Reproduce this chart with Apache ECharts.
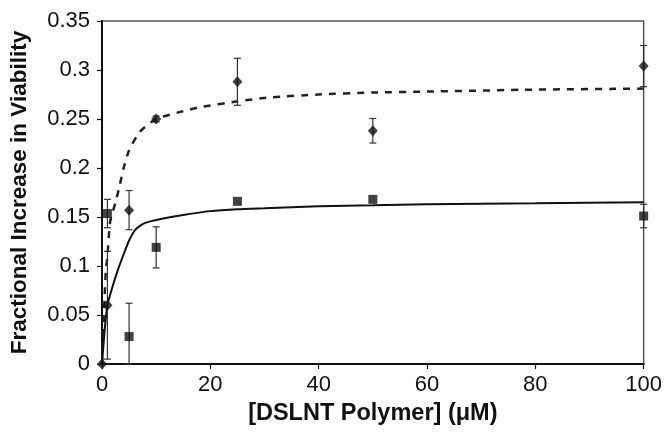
<!DOCTYPE html>
<html>
<head>
<meta charset="utf-8">
<script src="https://cdn.jsdelivr.net/npm/echarts@6/dist/echarts.min.js"></script>
<style>
  html, body { margin: 0; padding: 0; background: #fff; }
  #chart { width: 665px; height: 434px; }
</style>
</head>
<body>
<div id="chart"></div>
<script>
// 观测点 (μM, 增幅, 误差)
const doseDiamond = [0, 1, 5, 10, 25, 50, 100];
const valDiamond = [0, 0.06, 0.157, 0.25, 0.288, 0.238, 0.304];
const errDiamond = [0, 0.055, 0.02, 0.003, 0.024, 0.0125, 0.021];

const doseSquare = [1, 5, 10, 25, 50, 100];
const valSquare = [0.1535, 0.028, 0.119, 0.166, 0.168, 0.151];
const errSquare = [0.0145, 0.034, 0.021, 0, 0, 0.012];

// 拟合曲线
const fitDashX = [0, 0.3, 0.55, 0.7, 1, 1.5, 2.5, 3.3, 4, 5, 7, 10, 15, 18, 25, 31, 40, 50, 60, 80, 100];
const fitDashY = [0, 0.04, 0.078, 0.094, 0.11, 0.145, 0.165, 0.183, 0.2, 0.218, 0.237, 0.25, 0.258, 0.262, 0.268, 0.272, 0.275, 0.277, 0.278, 0.28, 0.281];

const fitSolidX = [0, 0.5, 1, 2, 3, 4, 5, 6, 7, 8, 10, 15, 20, 25, 30, 40, 50, 60, 80, 100];
const fitSolidY = [0, 0.035, 0.06, 0.08, 0.097, 0.112, 0.126, 0.136, 0.141, 0.144, 0.147, 0.152, 0.156, 0.158, 0.159, 0.161, 0.162, 0.163, 0.164, 0.165];

const xTicks = [0, 20, 40, 60, 80, 100];
const yTicks = [0, 0.05, 0.1, 0.15, 0.2, 0.25, 0.3, 0.35];

const zip = (xs, ys) => xs.map((x, i) => [x, ys[i]]);

const errData = (xs, ys, es) => xs
    .map((x, i) => [x, Math.max(0, ys[i] - es[i]), ys[i] + es[i]])
    .filter(d => d[2] - d[1] > 0.001);

const errorBar = (data) => ({
    type: 'custom',
    data,
    z: 3,
    silent: true,
    renderItem: (params, api) => {
        const lo = api.coord([api.value(0), api.value(1)]);
        const hi = api.coord([api.value(0), api.value(2)]);
        const cap = 3.5;
        const style = { stroke: '#333', lineWidth: 1.2 };
        return {
            type: 'group',
            children: [
                { type: 'line', shape: { x1: lo[0], y1: lo[1], x2: hi[0], y2: hi[1] }, style },
                { type: 'line', shape: { x1: lo[0] - cap, y1: lo[1], x2: lo[0] + cap, y2: lo[1] }, style },
                { type: 'line', shape: { x1: hi[0] - cap, y1: hi[1], x2: hi[0] + cap, y2: hi[1] }, style }
            ]
        };
    }
});

const font = '"Liberation Sans", Arial, sans-serif';

const chart = echarts.init(document.getElementById('chart'));
chart.setOption({
    animation: false,
    grid: {
        left: 102,
        right: 21,
        top: 21,
        bottom: 70,
        show: true,
        borderColor: '#555',
        borderWidth: 1.5
    },
    xAxis: {
        type: 'value',
        min: xTicks[0],
        max: xTicks[xTicks.length - 1],
        interval: 20,
        name: '[DSLNT Polymer] (\u03bcM)',
        nameLocation: 'middle',
        nameGap: 38,
        nameTextStyle: { fontFamily: font, fontWeight: 'bold', fontSize: 23.5, color: '#111' },
        axisLine: { lineStyle: { color: '#111', width: 2 } },
        axisTick: { length: 5, lineStyle: { color: '#111', width: 1.2 } },
        axisLabel: { fontFamily: font, fontSize: 22, color: '#111', margin: 10 },
        splitLine: { show: false }
    },
    yAxis: {
        type: 'value',
        min: yTicks[0],
        max: yTicks[yTicks.length - 1],
        interval: 0.05,
        name: 'Fractional Increase in Viability',
        nameLocation: 'middle',
        nameGap: 71,
        nameTextStyle: { fontFamily: font, fontWeight: 'bold', fontSize: 22.5, color: '#111' },
        axisLine: { show: true, lineStyle: { color: '#111', width: 2 } },
        axisTick: { show: true, length: 5, lineStyle: { color: '#111', width: 1.2 } },
        axisLabel: { fontFamily: font, fontSize: 22, color: '#111', margin: 12 },
        splitLine: { show: false }
    },
    series: [
        {
            type: 'line',
            data: zip(fitDashX, fitDashY),
            showSymbol: false,
            smooth: 0.2,
            silent: true,
            lineStyle: { color: '#222', width: 2.5, type: [7, 7] },
            z: 2
        },
        {
            type: 'line',
            data: zip(fitSolidX, fitSolidY),
            showSymbol: false,
            smooth: 0.2,
            silent: true,
            lineStyle: { color: '#111', width: 2 },
            z: 2
        },
        errorBar(errData(doseDiamond, valDiamond, errDiamond)),
        errorBar(errData(doseSquare, valSquare, errSquare)),
        {
            type: 'scatter',
            data: zip(doseDiamond, valDiamond),
            symbol: 'diamond',
            symbolSize: [10, 11],
            itemStyle: { color: '#111' },
            z: 4
        },
        {
            type: 'scatter',
            data: zip(doseSquare, valSquare),
            symbol: 'rect',
            symbolSize: 9,
            itemStyle: { color: '#111' },
            z: 4
        }
    ]
});
</script>
</body>
</html>
